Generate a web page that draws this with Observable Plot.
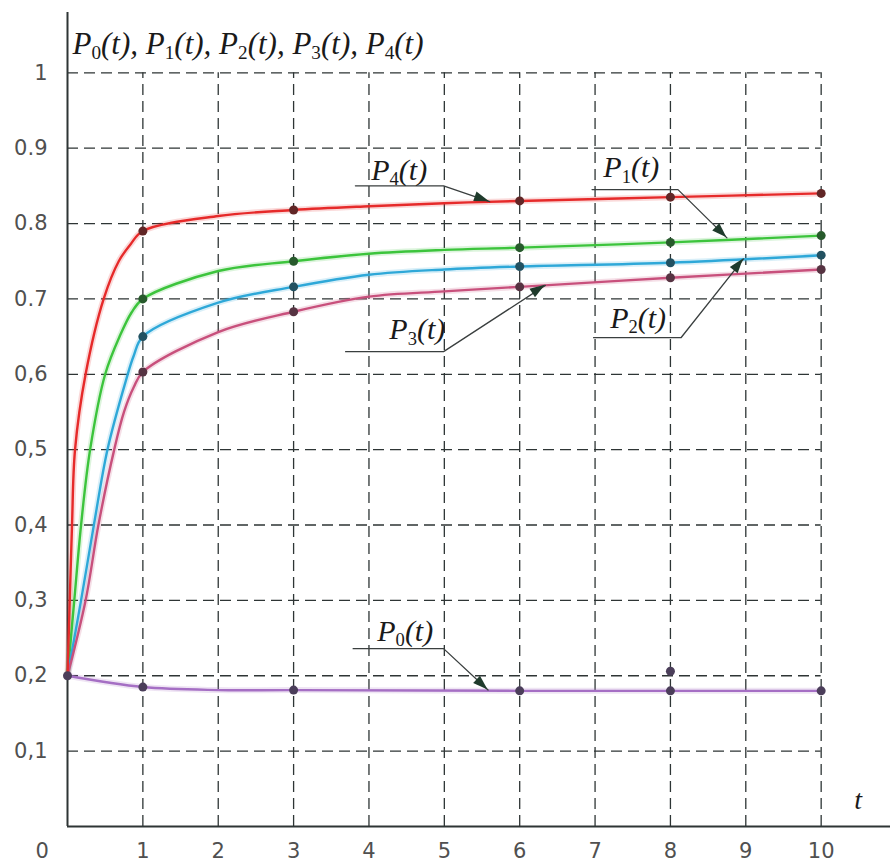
<!DOCTYPE html>
<html><head><meta charset="utf-8">
<script src="https://cdn.jsdelivr.net/npm/d3@7"></script>
<script src="https://cdn.jsdelivr.net/npm/@observablehq/plot@0.6"></script>
<style>body{margin:0;background:#fff} svg{display:block}</style>
</head><body><div id="chart"></div>
<script>
// ---- data ----
const seriesNames = ["P0", "P1", "P2", "P3", "P4"];
const seriesColors = ["#a56fc4", "#3cc43c", "#2ea8d8", "#c8507c", "#e62a2a"];

const p0T = [0, 1, 2, 3, 6, 8, 10];
const p0V = [0.2, 0.185, 0.181, 0.181, 0.180, 0.180, 0.180];

const p1T = [0, 0.09, 0.18, 0.3, 0.5, 0.7, 0.85, 1, 2, 3, 4, 5, 6, 8, 10];
const p1V = [0.2, 0.3, 0.4, 0.5, 0.6, 0.652, 0.682, 0.7, 0.737, 0.75, 0.76, 0.765, 0.768, 0.775, 0.784];

const p2T = [0, 0.18, 0.35, 0.53, 0.77, 0.88, 1, 2, 3, 4, 5, 6, 8, 10];
const p2V = [0.2, 0.3, 0.4, 0.5, 0.59, 0.625, 0.65, 0.695, 0.716, 0.732, 0.739, 0.743, 0.748, 0.758];

const p3T = [0, 0.24, 0.41, 0.62, 0.75, 0.88, 1, 2, 3, 4, 5, 6, 8, 10];
const p3V = [0.2, 0.3, 0.4, 0.5, 0.55, 0.583, 0.603, 0.656, 0.683, 0.703, 0.710, 0.716, 0.728, 0.739];

const p4T = [0, 0.03, 0.06, 0.1, 0.24, 0.48, 0.68, 0.84, 1, 2, 3, 4, 5, 6, 8, 10];
const p4V = [0.2, 0.3, 0.4, 0.5, 0.6, 0.7, 0.75, 0.773, 0.79, 0.81, 0.818, 0.823, 0.827, 0.830, 0.835, 0.840];

const markedT = [1, 3, 6, 8, 10];
const extraDotT = [0, 8];
const extraDotV = [0.2, 0.206];

const xTicks = [1, 2, 3, 4, 5, 6, 7, 8, 9, 10];
const yTicks = [0.1, 0.2, 0.3, 0.4, 0.5, 0.6, 0.7, 0.8, 0.9, 1];
const yTickLabels = ["0,1", "0,2", "0,3", "0,4", "0,5", "0,6", "0.7", "0.8", "0.9", "1"];
const originLabel = "0";

const titleText = "P0(t), P1(t), P2(t), P3(t), P4(t)";
const xAxisTitle = "t";

// callouts: label, text x, text y (centre), leader start x, knee x, leader y, arrow tip x, tip y
const calloutLabels = ["P4(t)", "P1(t)", "P2(t)", "P3(t)", "P0(t)"];
const calloutTextX  = [4.03, 7.11, 7.20, 4.27, 4.11];
const calloutTextY  = [0.871, 0.874, 0.674, 0.659, 0.259];
const calloutStartX = [3.82, 6.96, 6.98, 3.69, 3.79];
const calloutKneeX  = [4.99, 8.10, 8.14, 4.99, 4.99];
const calloutLineY  = [0.850, 0.845, 0.6485, 0.630, 0.236];
const calloutTipX   = [5.60, 8.75, 8.97, 6.34, 5.58];
const calloutTipY   = [0.829, 0.781, 0.753, 0.718, 0.181];

// ---- tables built from arrays ----
const seriesT = [p0T, p1T, p2T, p3T, p4T];
const seriesV = [p0V, p1V, p2V, p3V, p4V];
const lineRows = seriesNames.flatMap((s, i) => seriesT[i].map((t, j) => ({series: s, t, p: seriesV[i][j]})));
const dotRows = lineRows.filter(d => markedT.includes(d.t));
extraDotT.forEach((t, i) => dotRows.push({series: "P0", t, p: extraDotV[i]}));
const colorOf = s => seriesColors[seriesNames.indexOf(s)];
const dotFill = s => d3.interpolateRgb(colorOf(s), "#1c2424")(0.66);

const leaderRows = calloutLabels.flatMap((l, i) => [
  {id: l, x: calloutStartX[i], y: calloutLineY[i]},
  {id: l, x: calloutKneeX[i], y: calloutLineY[i]},
  {id: l, x: calloutTipX[i], y: calloutTipY[i]}
]);
const calloutRows = calloutLabels.map((l, i) => ({label: l, x: calloutTextX[i], y: calloutTextY[i]}));

const arrowHeads = (index, scales) => {
  const g = d3.create("svg:g");
  calloutLabels.forEach((l, i) => {
    const px = scales.x(calloutTipX[i]), py = scales.y(calloutTipY[i]);
    const kx = scales.x(calloutKneeX[i]), ky = scales.y(calloutLineY[i]);
    const len = Math.hypot(px - kx, py - ky);
    const ux = (px - kx) / len, uy = (py - ky) / len;
    const L = 15, w = 5;
    const bx = px - ux * L, by = py - uy * L;
    const pts = [[px, py], [bx - uy * w, by + ux * w], [bx + uy * w, by - ux * w]];
    g.append("path").attr("d", "M" + pts.map(p => p.join(",")).join("L") + "Z").attr("fill", "#1f3b2c");
  });
  return g.node();
};

const serif = "'Liberation Serif', 'Times New Roman', serif";
const sans = "'DejaVu Sans', Arial, sans-serif";

const plot = Plot.plot({
  width: 896, height: 866,
  marginLeft: 67, marginRight: 6, marginTop: 12, marginBottom: 40,
  x: {domain: [0, 10.92], axis: null},
  y: {domain: [0, 1.08], axis: null},
  color: {domain: seriesNames, range: seriesColors},
  style: {fontFamily: sans, background: "#fff", overflow: "visible"},
  marks: [
    Plot.ruleX(xTicks, {y1: 0, y2: 1, stroke: "#2e3535", strokeWidth: 1.3, strokeDasharray: "11,6"}),
    Plot.ruleY(yTicks, {x1: 0, x2: 10, stroke: "#2e3535", strokeWidth: 1.3, strokeDasharray: "11,6"}),
    Plot.ruleX([0], {y1: 0, y2: 1.08, stroke: "#2e3535", strokeWidth: 2}),
    Plot.ruleY([0], {x1: 0, x2: 10.92, stroke: "#2e3535", strokeWidth: 2}),
    Plot.text(yTicks, {y: d => d, frameAnchor: "left", dx: -20, textAnchor: "end", text: (d, i) => yTickLabels[i], fontSize: 21, fill: "#505050"}),
    Plot.text(xTicks, {x: d => d, frameAnchor: "bottom", dy: 31, text: d => String(d), fontSize: 21, fill: "#505050"}),
    Plot.text([originLabel], {frameAnchor: "bottom-left", dx: -32, dy: 31, text: d => d, fontSize: 21, fill: "#505050"}),
    Plot.line(lineRows, {x: "t", y: "p", z: "series", stroke: "series", curve: "catmull-rom", strokeWidth: 6, strokeOpacity: 0.18}),
    Plot.line(lineRows, {x: "t", y: "p", z: "series", stroke: "series", curve: "catmull-rom", strokeWidth: 2.4}),
    Plot.line(leaderRows, {x: "x", y: "y", z: "id", stroke: "#3a3f3f", strokeWidth: 1.3}),
    arrowHeads,
    Plot.dot(dotRows, {x: "t", y: "p", r: 4.5, fill: d => dotFill(d.series)}),
    Plot.text(calloutRows, {x: "x", y: "y", text: "label", textAnchor: "start", fontSize: 30, fill: "#1a1a1a"}),
    Plot.text([titleText], {x: 0.066, y: 1.0385, text: d => d, textAnchor: "start", fontSize: 31, fill: "#1a1a1a"}),
    Plot.text([xAxisTitle], {x: 10.49, y: 0.0345, text: d => d, fontSize: 28, fill: "#1a1a1a"})
  ]
});

// serif italic labels with real subscript tspans
plot.querySelectorAll("text").forEach(el => {
  const s = el.textContent;
  const isMath = /P\d/.test(s) || s === xAxisTitle;
  if (!isMath) return;
  el.style.fontFamily = serif;
  el.style.fontStyle = "italic";
  if (!/P\d/.test(s) || el.querySelector("tspan")) return;
  el.textContent = "";
  const re = /P(\d)/g;
  let last = 0, m, lowered = false;
  const add = (txt, sub) => {
    const ts = document.createElementNS("http://www.w3.org/2000/svg", "tspan");
    ts.textContent = txt;
    if (sub) { ts.setAttribute("dy", "0.28em"); ts.setAttribute("font-size", "0.62em"); ts.style.fontStyle = "normal"; lowered = true; }
    else if (lowered) { ts.setAttribute("dy", "-0.174em"); lowered = false; }
    el.appendChild(ts);
  };
  while ((m = re.exec(s))) {
    if (m.index > last) add(s.slice(last, m.index), false);
    add("P", false);
    add(m[1], true);
    last = m.index + m[0].length;
  }
  if (last < s.length) add(s.slice(last), false);
});

document.getElementById("chart").appendChild(plot);
</script>
</body></html>
